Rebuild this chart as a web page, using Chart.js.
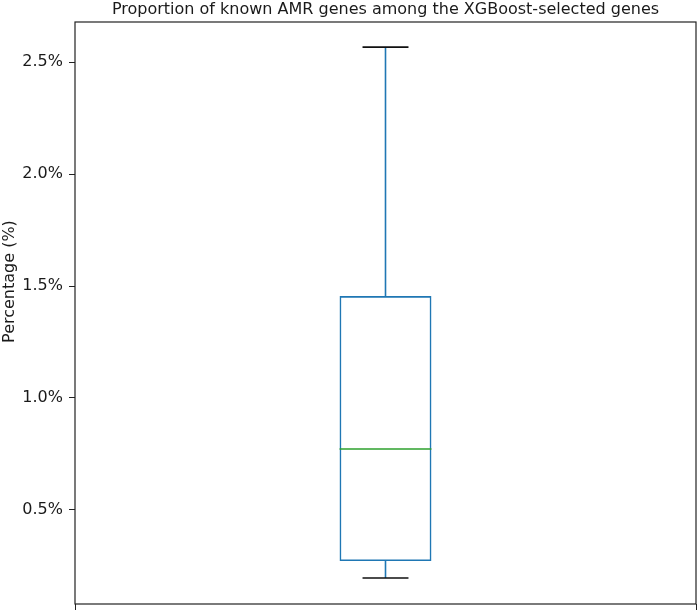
<!DOCTYPE html>
<html>
<head>
<meta charset="utf-8">
<script src="https://cdn.jsdelivr.net/npm/chart.js@4.4.0/dist/chart.umd.min.js"></script>
<style>
  html, body { margin: 0; padding: 0; background: #fff; }
  #wrap { width: 699px; height: 611px; }
</style>
</head>
<body>
<div id="wrap"><canvas id="boxChart"></canvas></div>
<script>
// box plot summary (percent)
const categories = [''];
const whiskerLow = [0.196];
const q1 = [0.272];
const median = [0.772];
const q3 = [1.455];
const whiskerHigh = [2.567];
const yTicks = [0.5, 1.0, 1.5, 2.0, 2.5];

const chartTitle = 'Proportion of known AMR genes among the XGBoost-selected genes';
const yLabel = 'Percentage (%)';

const BLUE = '#1f77b4';
const GREEN = '#2ca02c';
const TEXT = '#1a1a1a';
const FONT = 'DejaVu Sans, Verdana, sans-serif';

// whiskers, caps, median, frame and the titles, placed through the scales
const boxExtras = {
    id: 'boxExtras',
    afterDatasetsDraw(chart) {
        const ctx = chart.ctx;
        const y = chart.scales.y;
        const meta = chart.getDatasetMeta(0);
        ctx.save();
        meta.data.forEach((bar, i) => {
            const cx = bar.x;
            const half = bar.width / 2;
            const capHalf = half / 2;
            ctx.lineWidth = 1.6;
            ctx.strokeStyle = BLUE;
            ctx.beginPath();
            ctx.moveTo(cx, y.getPixelForValue(q3[i]));
            ctx.lineTo(cx, y.getPixelForValue(whiskerHigh[i]));
            ctx.moveTo(cx, y.getPixelForValue(q1[i]));
            ctx.lineTo(cx, y.getPixelForValue(whiskerLow[i]));
            ctx.stroke();

            ctx.strokeStyle = '#111';
            ctx.beginPath();
            ctx.moveTo(cx - capHalf, y.getPixelForValue(whiskerHigh[i]));
            ctx.lineTo(cx + capHalf, y.getPixelForValue(whiskerHigh[i]));
            ctx.moveTo(cx - capHalf, y.getPixelForValue(whiskerLow[i]));
            ctx.lineTo(cx + capHalf, y.getPixelForValue(whiskerLow[i]));
            ctx.stroke();

            ctx.strokeStyle = GREEN;
            ctx.beginPath();
            ctx.moveTo(cx - half, y.getPixelForValue(median[i]));
            ctx.lineTo(cx + half, y.getPixelForValue(median[i]));
            ctx.stroke();
        });
        const a = chart.chartArea;
        ctx.strokeStyle = '#222';
        ctx.lineWidth = 1.2;
        ctx.strokeRect(a.left, a.top, a.right - a.left, a.bottom - a.top);

        ctx.fillStyle = TEXT;
        ctx.font = '16px ' + FONT;
        ctx.textAlign = 'center';
        ctx.textBaseline = 'middle';
        ctx.fillText(chartTitle, (a.left + a.right) / 2, a.top - 12);

        ctx.translate(10, y.getPixelForValue(1.52));
        ctx.rotate(-Math.PI / 2);
        ctx.fillText(yLabel, 0, 0);
        ctx.restore();
    }
};

new Chart(document.getElementById('boxChart'), {
    type: 'bar',
    data: {
        labels: categories,
        datasets: [{
            data: categories.map((c, i) => [q1[i], q3[i]]),
            backgroundColor: 'rgba(0,0,0,0)',
            borderColor: BLUE,
            borderWidth: 1.6,
            borderSkipped: false,
            barPercentage: 0.148,
            categoryPercentage: 1.0
        }]
    },
    options: {
        responsive: true,
        maintainAspectRatio: false,
        animation: false,
        layout: { padding: { left: 0, right: 3, top: 22, bottom: 0 } },
        scales: {
            x: {
                grid: { display: true, drawOnChartArea: false, drawTicks: true, tickLength: 6, color: '#222' },
                border: { display: false },
                ticks: { display: true, font: { family: FONT, size: 16 }, padding: 0 },
                afterFit(scale) { scale.height = 7; }
            },
            y: {
                min: 0.08,
                max: 2.679,
                afterBuildTicks(scale) { scale.ticks = yTicks.map(v => ({ value: v })); },
                grid: { display: true, drawOnChartArea: false, drawTicks: true, tickLength: 6, color: '#222' },
                border: { display: false },
                ticks: {
                    color: TEXT,
                    padding: 6,
                    font: { family: FONT, size: 16 },
                    callback: v => v.toFixed(1) + '%'
                },
                afterFit(scale) {
                    scale.width = 75;
                    scale.paddingTop = 0;
                    scale.paddingBottom = 0;
                }
            }
        },
        plugins: {
            legend: { display: false },
            tooltip: { enabled: false },
            title: { display: false }
        }
    },
    plugins: [boxExtras]
});
</script>
</body>
</html>
